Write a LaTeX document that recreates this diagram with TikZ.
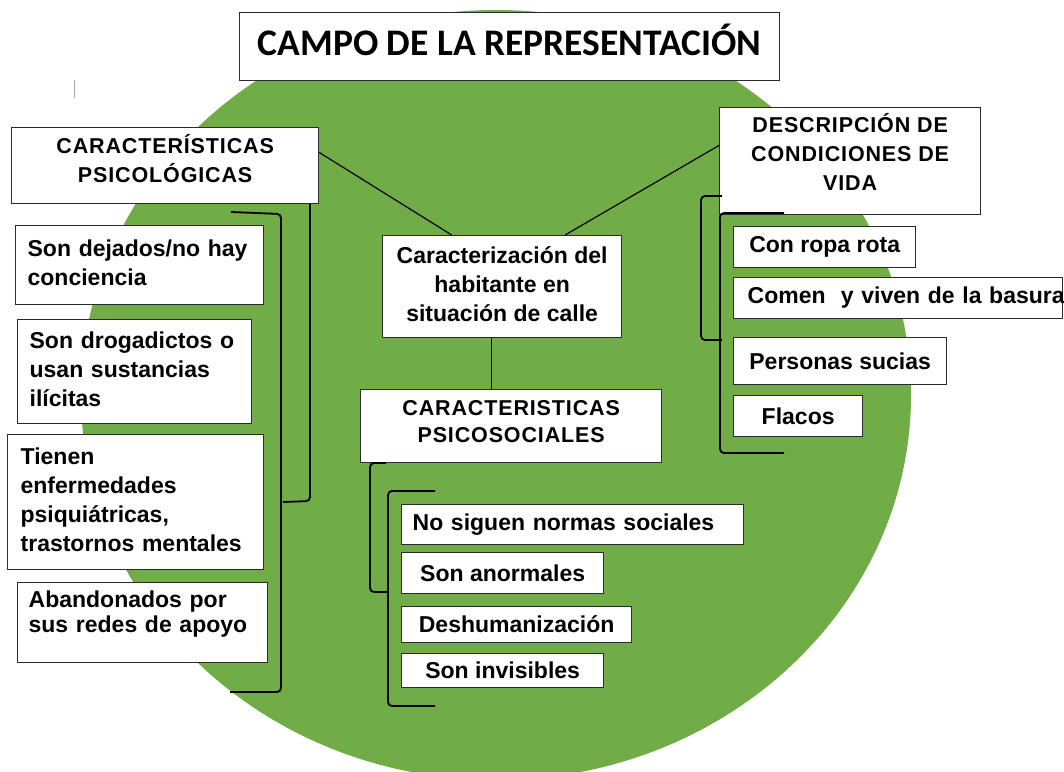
\documentclass[tikz,border=0pt]{standalone}
\usepackage{fontspec}
\setmainfont{Liberation Sans}
\newfontfamily\hdrfont{Liberation Sans}[LetterSpace=4]
\newfontfamily\ttlfont{Carlito}
\usetikzlibrary{calc}
\definecolor{grn}{HTML}{70AD47}
\definecolor{bord}{HTML}{2B2B2B}
\newcommand\bodyf{\fontsize{23}{29}\selectfont\bfseries}
\newcommand\hdrf{\hdrfont\bfseries\fontsize{21.5}{29}\selectfont}
\newcommand\lcell[2][0pt]{\raisebox{#1}[\height][\depth]{\begin{tabular}{@{}l@{}}#2\end{tabular}}}
\newcommand\ccell[2][0pt]{\raisebox{#1}[\height][\depth]{\begin{tabular}{@{}c@{}}#2\end{tabular}}}
\begin{document}
\begin{tikzpicture}[x=1pt,y=-1pt,
  box/.style={draw=bord, line width=1.3pt, fill=white, anchor=north west, inner sep=0pt},
  lbox/.style={box, font=\bodyf, align=left},
  cbox/.style={box, font=\bodyf, align=center},
  hbox/.style={box, font=\hdrf, align=center},
  link/.style={draw=black, line width=1.2pt},
  brk/.style={draw=black, line width=1.8pt, rounded corners=4pt}]

\useasboundingbox (0,0) rectangle (1064,771);
\fill[white] (0,0) rectangle (1064,771);
\begin{scope}
  \clip (0,0) rectangle (1064,771);
  \fill[grn] (496,395) ellipse [x radius=415, y radius=385];
\end{scope}

\draw[gray!70, line width=0.8pt] (74,80) -- (74,98);

\node[box, font=\ttlfont\bfseries\fontsize{37.5}{44}\selectfont, minimum width=540, minimum height=68] (title) at (239,12) {\ccell[0pt]{CAMPO DE LA REPRESENTACIÓN}};

\node[hbox, minimum width=307, minimum height=76] (h1) at (11,127) {\ccell[3pt]{CARACTERÍSTICAS\\PSICOLÓGICAS}};
\node[hbox, minimum width=261, minimum height=107] (h2) at (719,107) {\ccell[5pt]{DESCRIPCIÓN DE\\CONDICIONES DE\\VIDA}};
\node[hbox, minimum width=301, minimum height=73] (h3) at (360,389) {\ccell[3pt]{CARACTERISTICAS\\[-2pt]PSICOSOCIALES}};
\node[cbox, minimum width=239, minimum height=102] (cen) at (382,235) {\ccell{Caracterización del\\habitante en\\situación de calle}};

\draw[link] ($(h1.north east)!0.33!(h1.south east)$) -- ($(cen.north west)!0.29!(cen.north east)$);
\draw[link] ($(h2.north west)!0.355!(h2.south west)$) -- ($(cen.north west)!0.762!(cen.north east)$);
\coordinate (cb) at ($(cen.south west)!0.456!(cen.south east)$);
\draw[link] (cb) -- (cb |- h3.north);

% left column
\node[lbox, inner xsep=12pt, text width=224pt, minimum height=79] (l1) at (15,225) {\lcell{Son dejados/no hay\\conciencia}};
\node[lbox, inner xsep=12pt, text width=210pt, minimum height=104] (l2) at (17,319) {\lcell{Son drogadictos o\\usan sustancias\\ilícitas}};
\node[lbox, inner xsep=13pt, text width=230pt, minimum height=135] (l3) at (7,434) {\lcell{Tienen\\enfermedades\\psiquiátricas,\\trastornos mentales}};
\node[lbox, inner xsep=11pt, text width=228pt, minimum height=80] (l4) at (17,582) {\fontsize{23}{25}\selectfont\lcell[8pt]{Abandonados por\\sus redes de apoyo}};

% right column
\node[cbox, minimum width=182, minimum height=41] (r1) at (733,226) {Con ropa rota};
\node[lbox, inner xsep=14pt, text width=301pt, minimum height=41] (r2) at (733,277) {\lcell{Comen\ \ y viven de la basura}};
\node[cbox, minimum width=213, minimum height=47] (r3) at (733,337) {Personas sucias};
\node[cbox, minimum width=129, minimum height=41] (r4) at (733,395) {Flacos};

% center column
\node[lbox, inner xsep=11pt, text width=320pt, minimum height=40] (c1) at (401,504) {\lcell{No siguen normas sociales}};
\node[cbox, minimum width=202, minimum height=41] (c2) at (401,552) {Son anormales};
\node[cbox, minimum width=230, minimum height=36] (c3) at (401,606) {Deshumanización};
\node[cbox, minimum width=202, minimum height=34] (c4) at (401,653) {Son invisibles};

% brackets
\draw[brk] (231,212) -- (281,214) -- (281,692) -- (230,692);
\draw[brk] (310,204) -- (310,501) -- (283,502);
\draw[brk] (784,213) -- (720,213) -- (720,453) -- (784,453);
\draw[brk] (722,196) -- (701,196) -- (701,340) -- (722,340);
\draw[brk] (386,463) -- (370,463) -- (370,592) -- (388,592);
\draw[brk] (435,491) -- (388,491) -- (388,706) -- (435,706);
\end{tikzpicture}
\end{document}
